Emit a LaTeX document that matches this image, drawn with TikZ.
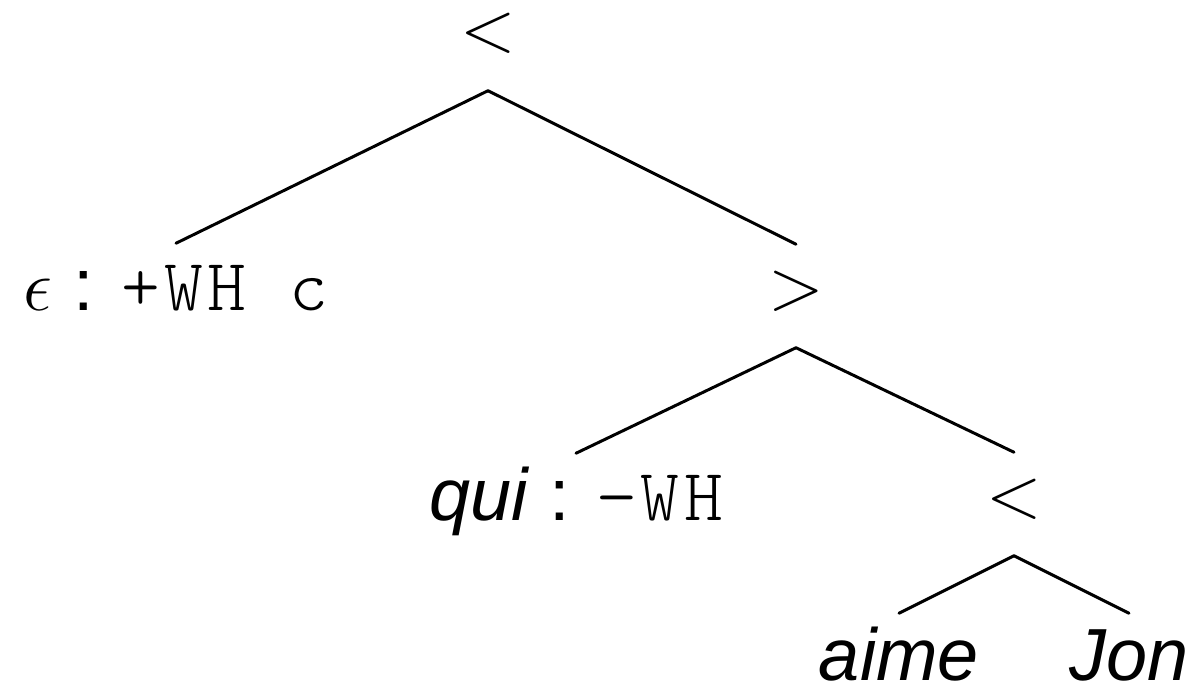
\documentclass[tikz,border=0pt]{standalone}
\usepackage{fontspec}
\setmainfont{Liberation Sans}
\newfontfamily\featfont[LetterSpace=6]{Latin Modern Mono Light}
\usetikzlibrary{positioning}

\tikzstyle{op} = [
    inner sep=0pt,
    anchor=base,
    text height=0.64cm,
    text depth=0.38cm,
    font=\fontsize{21}{25}\selectfont
]
\tikzstyle{leaf} = [
    inner sep=0pt,
    anchor=base,
    text height=0.66cm,
    text depth=0pt,
    font=\fontsize{21}{25}\selectfont
]
\tikzstyle{branch} = [
    line width=0.85pt,
    line cap=round
]
\newcommand{\feat}[1]{{\featfont #1}}

\begin{document}
\begin{tikzpicture}[x=0.01cm, y=-0.01cm]
        \useasboundingbox (0, 0) rectangle (1197, 688);

        % Merge nodes
        \node[op, text height=0.45cm] (root) at (488, 52) {$<$};
        \node[op] (comp) at (796, 309) {$>$};
        \node[op] (vp) at (1014, 517) {$<$};

        % Lexical items
        \node[leaf] (c) at (176, 310) {$\epsilon$ : \feat{+WH c}};
        \node[leaf] (wh) at (576, 520) {\textit{qui} : \feat{−WH}};
        \node[leaf] (verb) at (899, 680) {\textit{aime}};
        \node[leaf] (obj) at (1129, 680) {\textit{Jon}};

        % Branches
        \draw[branch] (root.south) -- (c.north);
        \draw[branch] (root.south) -- (comp.north);
        \draw[branch] (comp.south) -- (wh.north);
        \draw[branch] (comp.south) -- (vp.north);
        \draw[branch] (vp.south) -- (verb.north);
        \draw[branch] (vp.south) -- (obj.north);
    \end{tikzpicture}
\end{document}
